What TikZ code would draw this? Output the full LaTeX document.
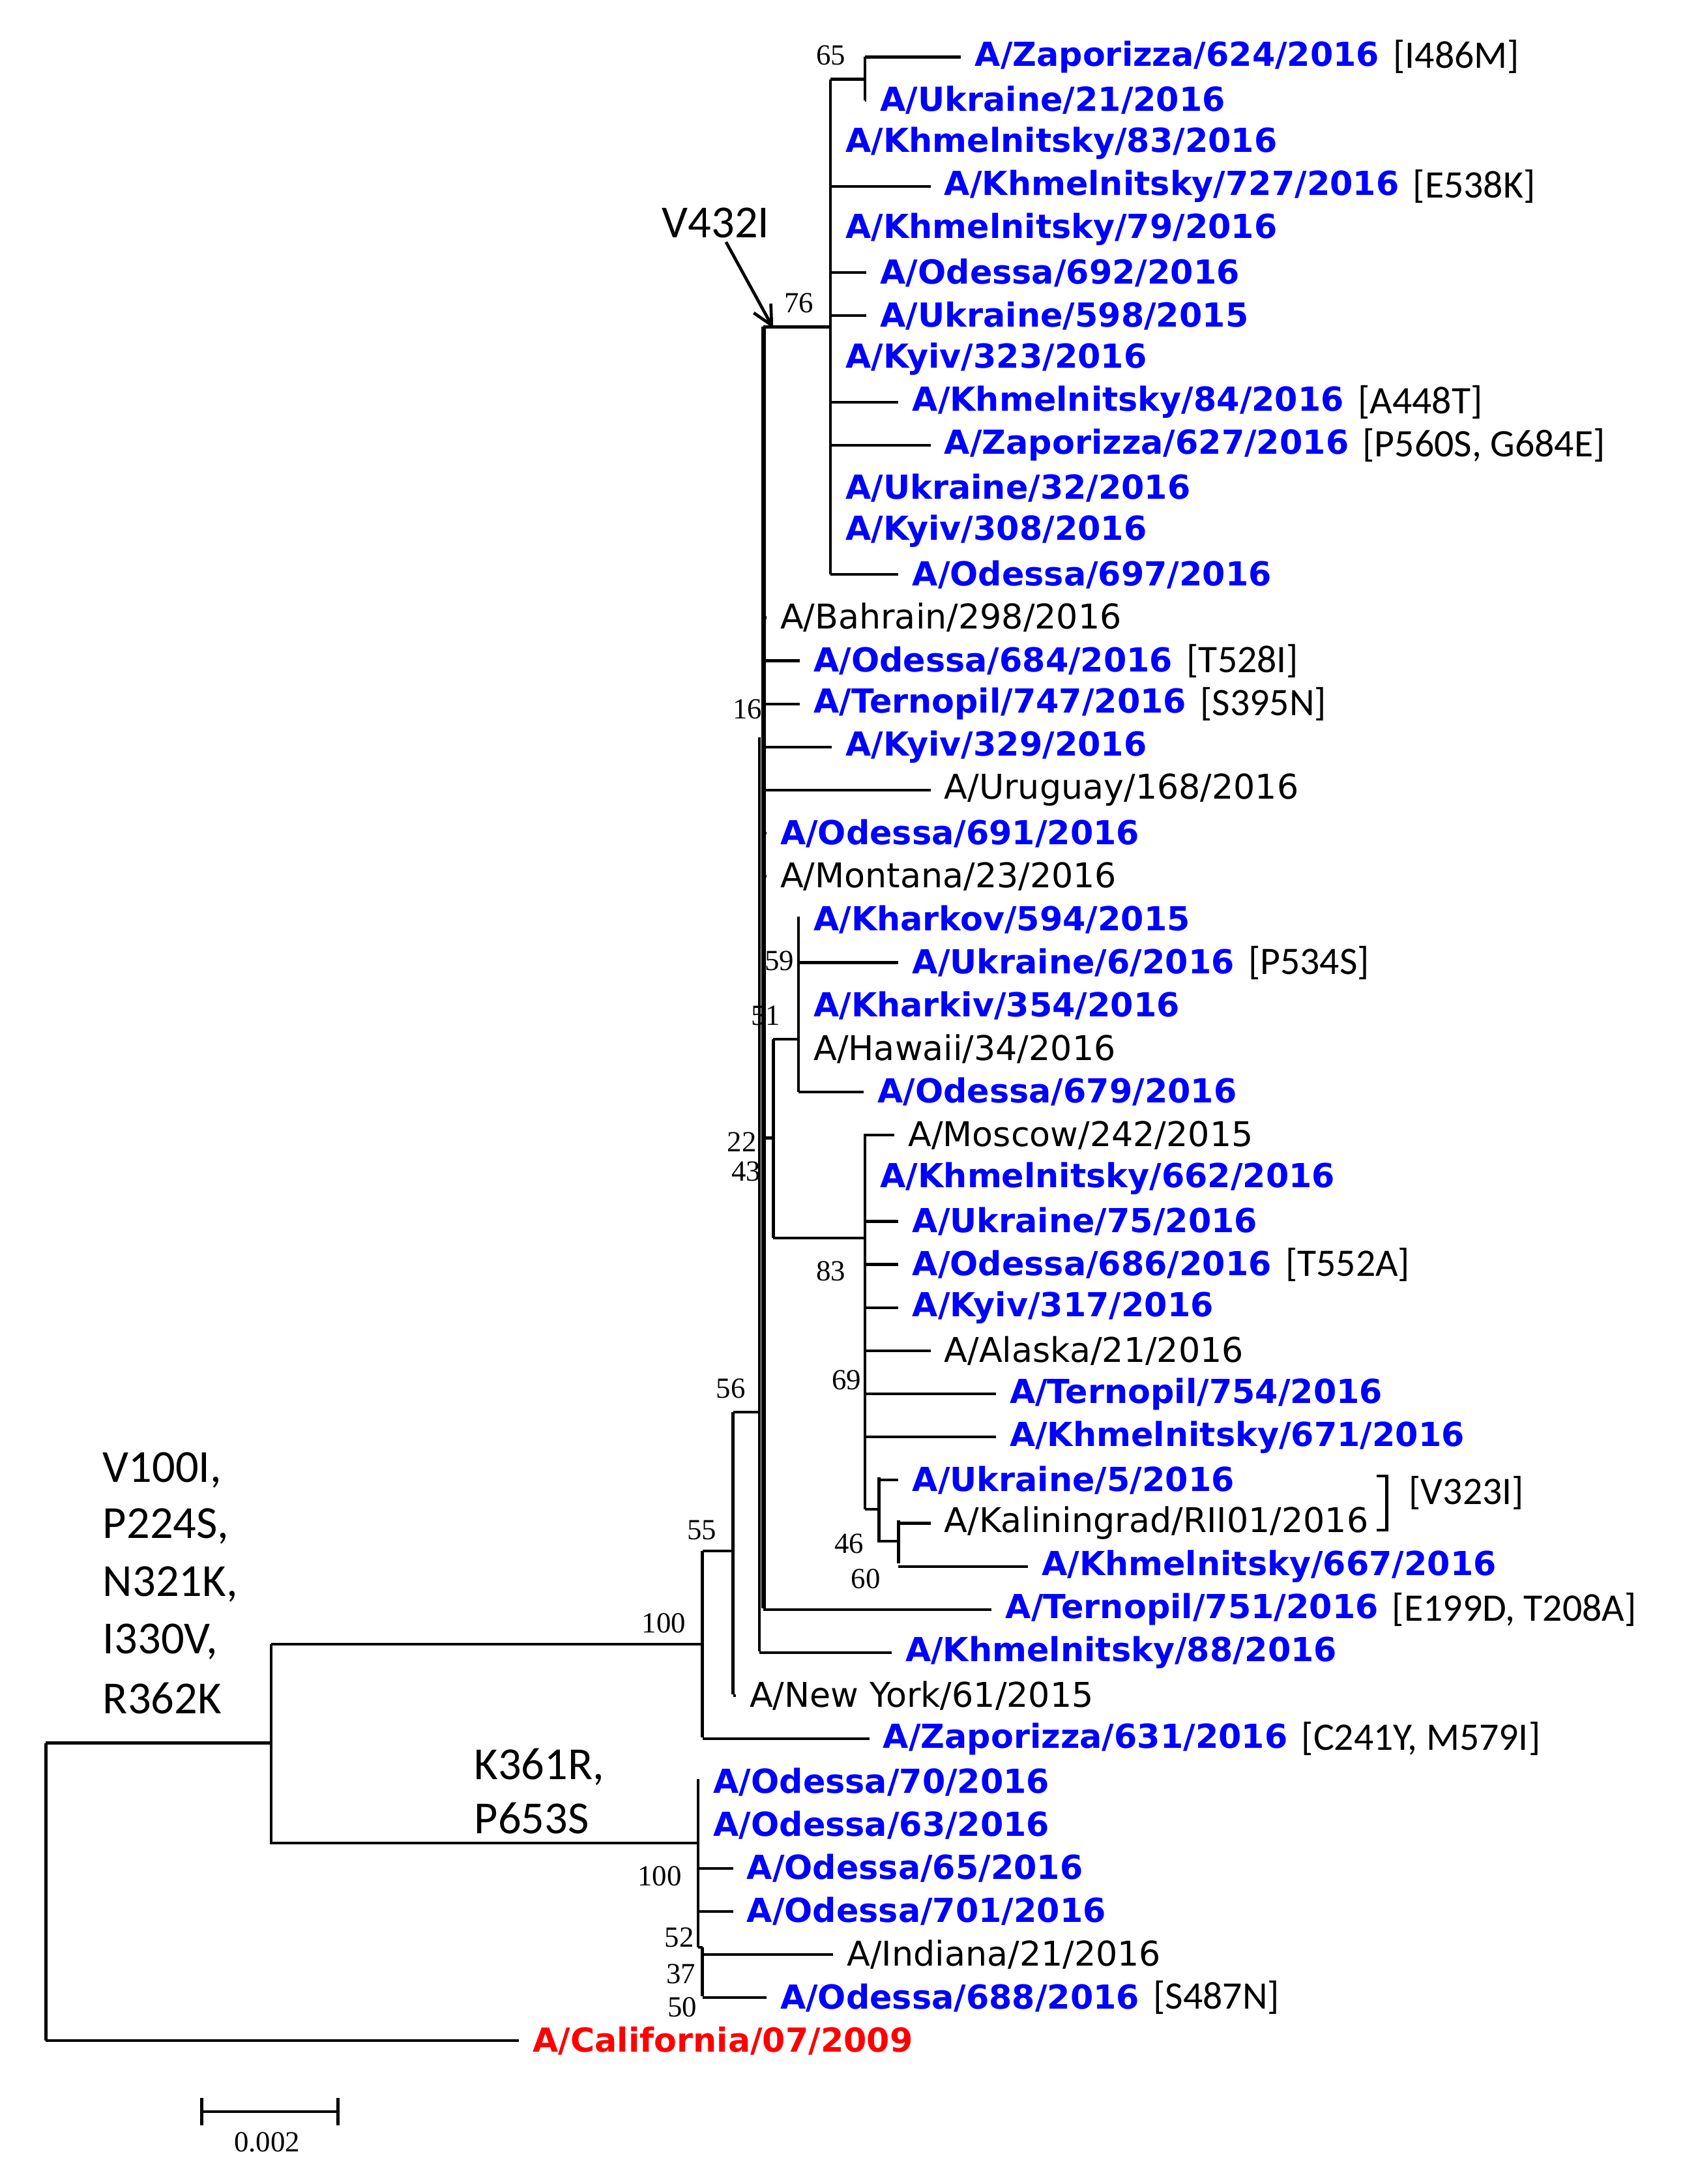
\documentclass[tikz,border=0pt]{standalone}
\usepackage{fontspec}
\usetikzlibrary{arrows.meta}
\setmainfont{Liberation Serif}
\newfontfamily\dvs{DejaVu Sans}
\newfontfamily\crl{Carlito}
\definecolor{lb}{RGB}{0,0,255}
\definecolor{lr}{RGB}{255,0,0}
\begin{document}
\begin{tikzpicture}[x=1pt,y=-1pt,line width=2pt,
 bl/.style={anchor=west,inner sep=0pt,font=\dvs\bfseries\fontsize{23.8}{24}\selectfont,text=lb},
 bk/.style={anchor=west,inner sep=0pt,font=\dvs\fontsize{24.5}{24}\selectfont},
 rd/.style={anchor=west,inner sep=0pt,font=\dvs\bfseries\fontsize{23.8}{24}\selectfont,text=lr},
 an/.style={anchor=west,inner sep=0pt,font=\crl\fontsize{28}{28}\selectfont},
 bs/.style={anchor=south east,inner sep=1pt,font=\fontsize{21}{21}\selectfont},
 mu/.style={anchor=west,inner sep=0pt,font=\crl\fontsize{33}{33}\selectfont}]
\useasboundingbox (0,0) rectangle (1210,1570);
\foreach \xa/\xb/\r/\s/\t/\a in {
622/700/0/bl/A\slash Zaporizza\slash 624\slash 2016/[I486M],
622/632/1/bl/A\slash Ukraine\slash 21\slash 2016/,
597/607/2/bl/A\slash Khmelnitsky\slash 83\slash 2016/,
597/678/3/bl/A\slash Khmelnitsky\slash 727\slash 2016/[E538K],
597/607/4/bl/A\slash Khmelnitsky\slash 79\slash 2016/,
597/632/5/bl/A\slash Odessa\slash 692\slash 2016/,
597/632/6/bl/A\slash Ukraine\slash 598\slash 2015/,
597/607/7/bl/A\slash Kyiv\slash 323\slash 2016/,
597/655/8/bl/A\slash Khmelnitsky\slash 84\slash 2016/[A448T],
597/678/9/bl/A\slash Zaporizza\slash 627\slash 2016/[P560S{,} G684E],
597/607/10/bl/A\slash Ukraine\slash 32\slash 2016/,
597/607/11/bl/A\slash Kyiv\slash 308\slash 2016/,
597/655/12/bl/A\slash Odessa\slash 697\slash 2016/,
549/560/13/bk/A\slash Bahrain\slash 298\slash 2016/,
549/584/14/bl/A\slash Odessa\slash 684\slash 2016/[T528I],
549/584/15/bl/A\slash Ternopil\slash 747\slash 2016/[S395N],
549/607/16/bl/A\slash Kyiv\slash 329\slash 2016/,
549/678/17/bk/A\slash Uruguay\slash 168\slash 2016/,
549/560/18/bl/A\slash Odessa\slash 691\slash 2016/,
549/560/19/bk/A\slash Montana\slash 23\slash 2016/,
574/584/20/bl/A\slash Kharkov\slash 594\slash 2015/,
574/655/21/bl/A\slash Ukraine\slash 6\slash 2016/[P534S],
574/584/22/bl/A\slash Kharkiv\slash 354\slash 2016/,
574/584/23/bk/A\slash Hawaii\slash 34\slash 2016/,
574/630/24/bl/A\slash Odessa\slash 679\slash 2016/,
622/652/25/bk/A\slash Moscow\slash 242\slash 2015/,
622/632/26/bl/A\slash Khmelnitsky\slash 662\slash 2016/,
622/655/27/bl/A\slash Ukraine\slash 75\slash 2016/,
622/655/28/bl/A\slash Odessa\slash 686\slash 2016/[T552A],
622/655/29/bl/A\slash Kyiv\slash 317\slash 2016/,
622/678/30/bk/A\slash Alaska\slash 21\slash 2016/,
622/725/31/bl/A\slash Ternopil\slash 754\slash 2016/,
622/725/32/bl/A\slash Khmelnitsky\slash 671\slash 2016/,
632/655/33/bl/A\slash Ukraine\slash 5\slash 2016/,
646/678/34/bk/A\slash Kaliningrad\slash RII01\slash 2016/,
646/748/35/bl/A\slash Khmelnitsky\slash 667\slash 2016/,
549/722/36/bl/A\slash Ternopil\slash 751\slash 2016/[E199D{,} T208A],
546/650/37/bl/A\slash Khmelnitsky\slash 88\slash 2016/,
527/538/38/bk/A\slash New York\slash 61\slash 2015/,
505/634/39/bl/A\slash Zaporizza\slash 631\slash 2016/[C241Y{,} M579I],
502/512/40/bl/A\slash Odessa\slash 70\slash 2016/,
502/512/41/bl/A\slash Odessa\slash 63\slash 2016/,
502/536/42/bl/A\slash Odessa\slash 65\slash 2016/,
502/536/43/bl/A\slash Odessa\slash 701\slash 2016/,
505/608/44/bk/A\slash Indiana\slash 21\slash 2016/,
505/560/45/bl/A\slash Odessa\slash 688\slash 2016/[S487N],
33/382/46/rd/A\slash California\slash 07\slash 2009/}{
 \pgfmathsetmacro\yy{41+31*\r}
 \node[\s] (L\r) at (\xb,\yy) {\t};
 \draw (\xa,\yy) -- ([xshift=-9pt]L\r.west);
 \node[an] (N\r) at ([xshift=8pt]L\r.east) {\a};
}
\draw (622,41) -- (622,72);
\draw (597,57) -- (622,57);
\draw (597,57) -- (597,413);
\draw[line width=3pt] (549,235) -- (549,1156);
\draw (549,235) -- (597,235);
\draw (546,530) -- (546,1187);
\draw (549,818) -- (556,818);
\draw (556,747) -- (556,890);
\draw (556,747) -- (574,747);
\draw (574,659) -- (574,785);
\draw (556,890) -- (622,890);
\draw (622,815) -- (622,1085);
\draw (622,1085) -- (632,1085) (632,1062) -- (632,1108) -- (646,1108) (646,1093) -- (646,1124);
\draw (527,1015) -- (546,1015);
\draw (527,1015) -- (527,1218);
\draw (505,1115) -- (527,1115);
\draw (505,1115) -- (505,1249);
\draw (195,1182) -- (505,1182);
\draw (195,1182) -- (195,1325) -- (502,1325);
\draw (502,1279) -- (502,1400) (502,1400)--(505,1400) (505,1400) -- (505,1435);
\draw (33,1253) -- (195,1253);
\draw (33,1253) -- (33,1467);
\draw (990,1061) -- (997,1061) -- (997,1100) -- (990,1100);
\node[an] (V323) at (1012,1073) {[V323I]};
\foreach \t/\x/\y in {65/610/49,76/587/227,16/550/519,59/573/700,51/563/739,22/546/830,43/549/851,83/610/923,69/621/1001,46/623/1119,60/635/1144,56/538/1007,55/517/1109,100/495/1176,100/492/1358,52/501/1402,37/502/1428,50/503/1452}{
 \node[bs] at (\x,\y) {\t};}
\node[mu] (m1) at (73,1057) {V100I,};
\node[mu] (m2) at (73,1097) {P224S,};
\node[mu] (m3) at (73,1139) {N321K,};
\node[mu] (m4) at (73,1180) {I330V,};
\node[mu] (m5) at (73,1221) {R362K};
\node[mu] (m6) at (340,1270) {K361R,};
\node[mu] (m7) at (340,1307) {P653S};
\node[mu] (v432) at (475,160) {V432I};
\coordinate (tip) at (556,236);
\draw[line width=2.2pt,-{Straight Barb[length=14pt,width=14pt]}] (522,174) -- (tip);
\draw (145,1518) -- (243,1518) (145,1508) -- (145,1528) (243,1508) -- (243,1528);
\node[inner sep=0pt,font=\fontsize{21}{21}\selectfont] (sb) at (192,1540) {0.002};
\end{tikzpicture}
\end{document}
